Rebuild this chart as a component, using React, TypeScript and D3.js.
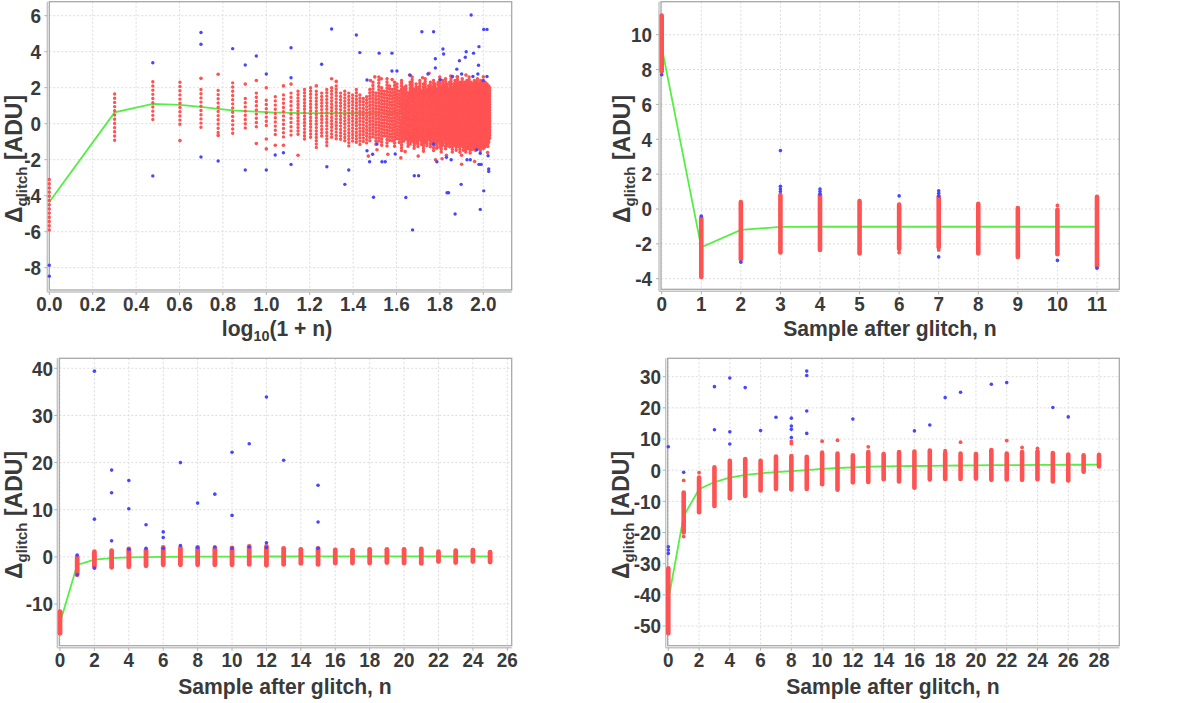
import React from 'react';
import * as d3 from 'd3';

const FONT = '"Liberation Sans", Arial, Helvetica, sans-serif';
const RED = '#ff5252';
const BLUE = '#4646ff';
const GREEN = '#55ee44';
const INK = '#3a3a3a';

type Pt = [number, number];

// ---------- Panel A : x = log10(1+n) ----------
const A_XTICKS = [0, 0.2, 0.4, 0.6, 0.8, 1.0, 1.2, 1.4, 1.6, 1.8, 2.0];
const A_YTICKS = [-8, -6, -4, -2, 0, 2, 4, 6];
// discrete columns n = 0..28
const A_LO = [-6.1, -0.94, 0.0, -0.1, -0.3, -0.7, -0.6, -0.4, -0.2, -0.3, -0.7, -0.8, -0.8, -0.7, -1.0, -0.9, -1.4, -0.8, -1.3, -0.9, -1.0, -1.0, -1.1, -1.3, -1.0, -1.2, -1.3, -1.0, -1.1];
const A_HI = [-3.1, 1.65, 2.33, 2.3, 1.9, 1.85, 2.27, 1.4, 1.7, 1.3, 1.5, 1.6, 1.7, 1.8, 1.9, 2.0, 1.8, 1.7, 1.9, 2.0, 2.1, 1.7, 1.8, 1.7, 1.6, 1.9, 1.6, 1.4, 1.5];
// dense cloud n = 29..106
const A_CLOUD_START = 29;
const A_CLOUD_HI = [
  1.9, 2.3, 1.7, 2.6, 2.0, 1.8, 2.5, 2.1, 1.9, 2.3,
  2.2, 1.8, 2.4, 2.0, 2.1, 1.7, 2.3, 2.6, 1.9, 2.2,
  2.0, 2.4, 1.8, 2.2, 2.5, 1.9, 2.1, 2.3, 2.0, 2.4,
  2.2, 1.9, 2.3, 2.6, 2.0, 2.4, 2.1, 2.5, 2.2, 1.9,
  2.3, 2.5, 2.0, 2.2, 2.4, 2.1, 2.6, 2.0, 2.3, 2.2,
  2.5, 2.1, 2.3, 2.0, 2.4, 2.2, 2.6, 2.1, 2.3, 2.0,
  2.2, 2.4, 2.1, 2.3, 2.5, 2.0, 2.2, 2.4, 2.1, 2.3,
  2.2, 2.0, 2.3, 2.1, 2.2, 2.0, 2.1, 2.0,
];
const A_CLOUD_LO = [
  -1.1, -0.9, -1.3, -1.0, -1.2, -0.8, -1.4, -1.0, -1.1, -1.3,
  -1.0, -1.2, -1.5, -1.1, -0.9, -1.3, -1.2, -1.0, -1.4, -1.1,
  -1.3, -1.0, -1.2, -1.6, -1.1, -1.3, -1.0, -1.4, -1.2, -1.5,
  -1.2, -1.4, -1.1, -1.3, -1.6, -1.2, -1.0, -1.5, -1.3, -1.1,
  -1.4, -1.2, -1.6, -1.3, -1.1, -1.5, -1.2, -1.4, -1.7, -1.3,
  -1.2, -1.5, -1.3, -1.6, -1.1, -1.4, -1.3, -1.7, -1.2, -1.5,
  -1.4, -1.2, -1.6, -1.3, -1.5, -1.1, -1.4, -1.6, -1.2, -1.3,
  -1.5, -1.1, -1.3, -1.2, -1.0, -1.4, -1.1, -0.9,
];
const A_MEAN: Pt[] = [
  [0, -4.35], [1, 0.63], [2, 1.1], [3, 1.05], [4, 0.93], [5, 0.82], [6, 0.74], [7, 0.7], [8, 0.67], [9, 0.64],
  [10, 0.62], [11, 0.61], [12, 0.6], [14, 0.59], [18, 0.58], [24, 0.58], [28, 0.58], [40, 0.6], [70, 0.62], [106, 0.63],
];
const A_RED_STRAY_N: Pt[] = [
  [3, -0.94], [4, 2.52], [5, 2.75], [5, -0.65], [7, 2.2], [8, 2.4], [8, -1.1], [9, 2.0], [9, -0.85], [9, -1.4],
  [10, -1.2], [11, 2.1], [11, -1.2], [12, 2.2], [13, -1.75], [16, 2.1], [19, 2.5], [20, 2.35],
];
const A_RED_STRAY_X: Pt[] = [
  [1.47, -1.8], [1.48, 2.4], [1.5, 2.6], [1.53, 2.5], [1.56, -1.7], [1.62, -1.9], [1.66, 2.7], [1.7, -1.8],
  [1.75, 2.8], [1.78, -2.0], [1.83, -1.75], [1.85, 2.65], [1.9, -2.25], [1.9, -1.75], [1.92, 2.7], [1.96, -2.1],
  [2.0, 2.6], [2.02, -1.6], [1.51, -1.45], [1.58, 2.45], [1.64, -1.55], [1.72, 2.55], [1.81, -1.95], [1.88, 2.6],
];
const A_BLUE: Pt[] = [
  [0, -7.86], [0, -8.47], [0.477, 3.39], [0.477, -2.9], [0.699, 5.07], [0.699, 4.41], [0.699, -1.85], [0.778, -2.07],
  [0.845, 4.17], [0.903, 3.26], [0.903, -2.57], [0.954, 3.76], [1.0, 2.76], [1.0, -2.57], [1.041, -1.74], [1.079, -1.61],
  [1.114, 4.22], [1.114, 2.55], [1.114, -2.26], [1.255, 3.3], [1.279, -2.39], [1.301, 5.26], [1.362, -3.37], [1.38, -2.57],
  [1.415, 4.93], [1.431, 3.95], [1.464, 2.43], [1.464, -1.5], [1.476, -2.11], [1.494, -4.09], [1.49, -1.7], [1.51, -1.13],
  [1.52, 3.92], [1.533, -2.11], [1.548, -2.11], [1.579, 3.92], [1.579, 2.93], [1.594, -1.68], [1.602, 2.93], [1.663, 2.7],
  [1.643, -4.1], [1.674, -5.9], [1.682, -2.89], [1.702, -2.89], [1.717, 5.11], [1.745, 2.76], [1.771, 5.11], [1.779, 3.61],
  [1.779, 3.1], [1.786, -2.11], [1.771, -1.13], [1.814, 4.15], [1.817, 3.87], [1.802, 2.45], [1.83, -1.87], [1.833, -3.84],
  [1.84, -3.84], [1.852, -2.0], [1.858, 2.62], [1.87, -5.02], [1.878, 3.03], [1.89, 3.5], [1.898, -3.37], [1.9, 2.76],
  [1.917, 3.69], [1.921, 4.0], [1.925, -2.0], [1.94, -2.0], [1.944, 6.04], [1.955, 3.92], [1.952, 2.62], [1.978, 3.25],
  [1.98, 4.28], [1.98, -2.26], [1.99, -2.26], [1.986, -4.76], [1.975, 2.76], [2.002, -3.73], [2.002, 5.24], [2.017, 5.24],
  [2.0, 2.4], [2.017, 2.62], [2.022, -1.78], [2.025, -2.52], [2.025, -2.65], [1.97, -1.45], [1.986, -1.64],
];

// ---------- Panel B : n = 0..11 ----------
const B_XTICKS = [0, 1, 2, 3, 4, 5, 6, 7, 8, 9, 10, 11];
const B_YTICKS = [-4, -2, 0, 2, 4, 6, 8, 10];
const B_LO = [7.9, -3.9, -2.9, -2.5, -2.35, -2.55, -2.3, -2.2, -2.55, -2.75, -2.6, -3.3];
const B_HI = [11.1, -0.5, 0.4, 0.8, 0.8, 0.45, 0.25, 0.7, 0.3, 0.05, -0.05, 0.7];
const B_MEAN = [9.3, -2.2, -1.2, -1.03, -1.02, -1.02, -1.02, -1.02, -1.02, -1.02, -1.02, -1.02];
const B_RED_STRAY: Pt[] = [[7, -2.35], [10, 0.2], [6, -2.5]];
const B_BLUE: Pt[] = [
  [0, 7.7], [1, -0.4], [2, -3.05], [3, 1.0], [3, 1.15], [3, 1.3], [3, 3.35], [4, 0.85], [4, 1.0], [4, 1.15],
  [6, 0.75], [7, 0.75], [7, 0.9], [7, 1.05], [7, -2.75], [10, -2.95], [11, -3.4],
];

// ---------- Panel C : n = 0..25 ----------
const C_XTICKS = [0, 2, 4, 6, 8, 10, 12, 14, 16, 18, 20, 22, 24, 26];
const C_YTICKS = [-10, 0, 10, 20, 30, 40];
const C_LO = [-16.2, -3.8, -2.1, -2.2, -2.1, -1.9, -1.7, -1.7, -1.7, -1.7, -1.7, -1.6, -1.8, -1.6, -1.4, -1.6, -1.3, -1.3, -1.3, -1.2, -1.3, -1.4, -1.0, -1.2, -1.0, -1.1];
const C_HI = [-11.6, 0.0, 1.1, 1.3, 1.7, 1.4, 2.0, 1.9, 2.0, 1.9, 1.9, 2.2, 2.2, 1.8, 1.6, 1.8, 1.5, 1.4, 1.6, 1.6, 1.6, 1.7, 1.1, 1.3, 1.4, 1.0];
const C_MEAN = [-14.0, -1.7, -0.6, -0.25, -0.1, -0.05, 0.0, 0.02, 0.04, 0.05, 0.06, 0.07, 0.08, 0.08, 0.09, 0.09, 0.1, 0.1, 0.1, 0.1, 0.1, 0.1, 0.1, 0.1, 0.1, 0.1];
const C_BLUE: Pt[] = [
  [1, 0.4], [1, -3.8], [2, -2.4], [2, 8.0], [2, 39.4], [3, 3.4], [3, 13.6], [3, 18.4], [4, 1.6], [4, 10.2], [4, 16.2],
  [5, 1.8], [5, 6.8], [6, 1.8], [6, 4.1], [6, 5.3], [7, 2.4], [7, 20.0], [8, 2.0], [8, 11.4], [9, 2.1], [9, 13.3],
  [10, 1.8], [10, 8.8], [10, 22.2], [11, 2.1], [11, 24.0], [12, 2.0], [12, 3.0], [12, 33.9], [13, 20.5],
  [15, 1.8], [15, 7.4], [15, 15.2],
];

// ---------- Panel D : n = 0..28 ----------
const D_XTICKS = [0, 2, 4, 6, 8, 10, 12, 14, 16, 18, 20, 22, 24, 26, 28];
const D_YTICKS = [-50, -40, -30, -20, -10, 0, 10, 20, 30];
const D_LO = [-52.3, -20.0, -13.5, -11.5, -9.0, -8.3, -6.5, -6.0, -6.2, -6.0, -4.5, -6.3, -3.9, -3.8, -2.9, -3.6, -5.6, -3.0, -2.8, -2.8, -2.7, -3.1, -3.0, -3.1, -2.9, -3.6, -3.3, -0.5, 1.2];
const D_HI = [-31.5, -7.2, -2.4, 0.9, 3.0, 3.6, 3.0, 4.4, 4.5, 4.3, 5.4, 5.3, 4.8, 5.8, 5.2, 5.8, 6.0, 6.3, 5.5, 5.3, 5.2, 6.5, 5.3, 5.8, 6.0, 5.5, 5.0, 4.8, 4.9];
const D_MEAN = [-41.8, -14.7, -6.1, -3.8, -2.4, -1.5, -1.0, -0.6, -0.3, 0.05, 0.4, 0.7, 0.9, 1.1, 1.2, 1.3, 1.35, 1.4, 1.45, 1.5, 1.55, 1.6, 1.6, 1.65, 1.7, 1.7, 1.75, 1.75, 1.8];
const D_RED_STRAY: Pt[] = [
  [1, -3.3], [1, -21.3], [2, -0.8], [8, 8.5], [8, 9.2], [10, 5.8], [10, 9.3], [11, 9.6], [13, 7.5], [18, 6.3],
  [19, 9.0], [22, 9.5], [23, 7.3], [24, 7.0],
];
const D_BLUE: Pt[] = [
  [0, 7.5], [0, -24.6], [0, -25.6], [0, -26.7], [1, -0.7], [3, 13.0], [3, 26.8], [4, 8.4], [4, 12.3], [4, 29.6],
  [5, 26.5], [6, 12.7], [7, 17.0], [8, 10.5], [8, 13.1], [8, 14.2], [8, 16.7], [9, 11.8], [9, 19.0], [9, 30.4],
  [9, 31.8], [12, 16.4], [16, 12.6], [17, 14.5], [18, 23.3], [19, 25.0], [21, 27.6], [22, 28.1], [25, 20.1], [26, 17.1],
];

type Box = { l: number; t: number; r: number; b: number };
type Scale = d3.ScaleLinear<number, number>;

const SX = 0.9; // horizontal condensation of the reference lettering

function Frame(props: {
  box: Box;
  x: Scale;
  y: Scale;
  xTicks: number[];
  yTicks: number[];
  xFmt: (v: number) => string;
  xLabelY: number;
  yLabelRight: number;
  xTitle: React.ReactNode;
  xTitleX: number;
  xTitleY: number;
  yTitleX: number;
  yTitleY: number;
  children?: React.ReactNode;
}) {
  const { box, x, y } = props;
  return (
    <g>
      <rect x={box.l} y={box.t} width={box.r - box.l} height={box.b - box.t} fill="#fff" />
      {props.xTicks.map((v) => (
        <line key={'gx' + v} x1={x(v)} x2={x(v)} y1={box.t} y2={box.b} stroke="#dcdcdc" strokeWidth={1} strokeDasharray="2,2" />
      ))}
      {props.yTicks.map((v) => (
        <line key={'gy' + v} x1={box.l} x2={box.r} y1={y(v)} y2={y(v)} stroke="#dcdcdc" strokeWidth={1} strokeDasharray="2,2" />
      ))}
      <rect x={box.l} y={box.t} width={box.r - box.l} height={box.b - box.t} fill="none" stroke="#a8a8a8" strokeWidth={1.3} />
      <line x1={box.l - 2} x2={box.r} y1={box.b + 2} y2={box.b + 2} stroke="#c4c4c4" strokeWidth={1.4} />
      <line x1={box.l - 2} x2={box.l - 2} y1={box.t} y2={box.b + 2} stroke="#c4c4c4" strokeWidth={1.4} />
      {props.xTicks.map((v) => (
        <line key={'tx' + v} x1={x(v)} x2={x(v)} y1={box.b + 2} y2={box.b + 5} stroke="#b0b0b0" strokeWidth={1} />
      ))}
      {props.yTicks.map((v) => (
        <line key={'ty' + v} x1={box.l - 5} x2={box.l - 2} y1={y(v)} y2={y(v)} stroke="#b0b0b0" strokeWidth={1} />
      ))}
      {props.children}
      <g fontFamily={FONT} fontWeight="bold" fill={INK}>
        {props.xTicks.map((v) => (
          <text
            key={'lx' + v}
            transform={`translate(${x(v)},${props.xLabelY}) scale(${SX},1)`}
            textAnchor="middle"
            fontSize={21}
          >
            {props.xFmt(v)}
          </text>
        ))}
        {props.yTicks.map((v) => (
          <text
            key={'ly' + v}
            transform={`translate(${props.yLabelRight},${y(v)}) scale(${SX},1)`}
            dy="0.35em"
            textAnchor="end"
            fontSize={21}
          >
            {v}
          </text>
        ))}
        <text transform={`translate(${props.xTitleX},${props.xTitleY}) scale(0.96,1)`} textAnchor="middle" fontSize={22}>
          {props.xTitle}
        </text>
        <text transform={`translate(${props.yTitleX},${props.yTitleY}) rotate(-90)`} textAnchor="middle" fontSize={23}>
          Δ<tspan dy={5} fontSize={15}>glitch</tspan>
          <tspan dy={-5}> [ADU]</tspan>
        </text>
      </g>
    </g>
  );
}

function Column({ x, y1, y2, w, dotted }: { x: number; y1: number; y2: number; w: number; dotted?: number }) {
  return (
    <line
      x1={x}
      x2={x}
      y1={y1}
      y2={y2}
      stroke={RED}
      strokeWidth={w}
      strokeLinecap="round"
      strokeDasharray={dotted ? `0 ${dotted}` : undefined}
    />
  );
}

function Dots({ pts, x, y, color, r }: { pts: Pt[]; x: (v: number) => number; y: Scale; color: string; r: number }) {
  return (
    <g fill={color}>
      {pts.map((p, i) => (
        <circle key={i} cx={x(p[0])} cy={y(p[1])} r={r} />
      ))}
    </g>
  );
}

function PanelA() {
  const box = { l: 49.3, t: 1.7, r: 511.7, b: 290 };
  const x = d3.scaleLinear().domain([0, 2]).range([49.3, 483.3]);
  const y = d3.scaleLinear().domain([6, -8]).range([15.7, 267.7]);
  const xn = (n: number) => x(Math.log10(1 + n));
  const line = d3
    .line<Pt>()
    .x((d) => xn(d[0]))
    .y((d) => y(d[1]));
  return (
    <Frame
      box={box}
      x={x}
      y={y}
      xTicks={A_XTICKS}
      yTicks={A_YTICKS}
      xFmt={d3.format('.1f')}
      xLabelY={311}
      yLabelRight={41}
      xTitle={
        <>
          log<tspan dy={5} fontSize={15}>10</tspan>
          <tspan dy={-5}>(1 + n)</tspan>
        </>
      }
      xTitleX={277}
      xTitleY={336}
      yTitleX={22}
      yTitleY={159}
    >
      <path d={line(A_MEAN) || ''} fill="none" stroke={GREEN} strokeWidth={1.8} />
      {A_LO.map((lo, n) => (
        <Column key={'c' + n} x={xn(n)} y1={y(A_HI[n])} y2={y(lo)} w={3.4} dotted={n <= 12 ? 4.2 : 3.3} />
      ))}
      {A_CLOUD_LO.map((lo, i) => (
        <Column key={'k' + i} x={xn(A_CLOUD_START + i)} y1={y(A_CLOUD_HI[i])} y2={y(lo)} w={3.5} dotted={i < 12 ? 3.2 : 2.8} />
      ))}
      <Dots pts={A_RED_STRAY_N} x={xn} y={y} color={RED} r={1.8} />
      <Dots pts={A_RED_STRAY_X} x={x} y={y} color={RED} r={1.8} />
      <Dots pts={A_BLUE} x={x} y={y} color={BLUE} r={1.7} />
    </Frame>
  );
}

function SamplePanel(props: {
  box: Box;
  x: Scale;
  y: Scale;
  xTicks: number[];
  yTicks: number[];
  lo: number[];
  hi: number[];
  mean: number[];
  red: Pt[];
  blue: Pt[];
  xLabelY: number;
  yLabelRight: number;
  xTitleX: number;
  xTitleY: number;
  yTitleX: number;
  yTitleY: number;
  colW: number;
}) {
  const { x, y } = props;
  const line = d3
    .line<number>()
    .x((_, i) => x(i))
    .y((d) => y(d));
  return (
    <Frame
      box={props.box}
      x={x}
      y={y}
      xTicks={props.xTicks}
      yTicks={props.yTicks}
      xFmt={(v) => String(v)}
      xLabelY={props.xLabelY}
      yLabelRight={props.yLabelRight}
      xTitle="Sample after glitch, n"
      xTitleX={props.xTitleX}
      xTitleY={props.xTitleY}
      yTitleX={props.yTitleX}
      yTitleY={props.yTitleY}
    >
      <path d={line(props.mean) || ''} fill="none" stroke={GREEN} strokeWidth={1.8} />
      {props.lo.map((lo, n) => (
        <Column key={n} x={x(n)} y1={y(props.hi[n])} y2={y(lo)} w={props.colW} />
      ))}
      <Dots pts={props.red} x={x} y={y} color={RED} r={1.9} />
      <Dots pts={props.blue} x={x} y={y} color={BLUE} r={1.8} />
    </Frame>
  );
}

export default function App() {
  const bx = d3.scaleLinear().domain([0, 11]).range([661.7, 1097]);
  const by = d3.scaleLinear().domain([10, -4]).range([34.7, 278.7]);
  const cx = d3.scaleLinear().domain([0, 26]).range([60, 507.3]);
  const cy = d3.scaleLinear().domain([40, -10]).range([368.3, 604]);
  const dx = d3.scaleLinear().domain([0, 28]).range([668.3, 1099]);
  const dy = d3.scaleLinear().domain([30, -50]).range([376.7, 626]);
  return (
    <svg
      width={1200}
      height={703}
      viewBox="0 0 1200 703"
      style={{ position: 'absolute', left: 0, top: 0, background: '#fff' }}
    >
      <rect x={0} y={0} width={1200} height={703} fill="#fff" />
      <PanelA />
      <SamplePanel
        box={{ l: 661, t: 1.7, r: 1119.3, b: 289.3 }}
        x={bx}
        y={by}
        xTicks={B_XTICKS}
        yTicks={B_YTICKS}
        lo={B_LO}
        hi={B_HI}
        mean={B_MEAN}
        red={B_RED_STRAY}
        blue={B_BLUE}
        xLabelY={311}
        yLabelRight={652}
        xTitleX={890}
        xTitleY={336}
        yTitleX={630}
        yTitleY={159}
        colW={4.6}
      />
      <SamplePanel
        box={{ l: 59.3, t: 358.3, r: 511.7, b: 645.7 }}
        x={cx}
        y={cy}
        xTicks={C_XTICKS}
        yTicks={C_YTICKS}
        lo={C_LO}
        hi={C_HI}
        mean={C_MEAN}
        red={[]}
        blue={C_BLUE}
        xLabelY={667}
        yLabelRight={53}
        xTitleX={285}
        xTitleY={694}
        yTitleX={22}
        yTitleY={515}
        colW={4.8}
      />
      <SamplePanel
        box={{ l: 667.7, t: 358.3, r: 1119.3, b: 645.7 }}
        x={dx}
        y={dy}
        xTicks={D_XTICKS}
        yTicks={D_YTICKS}
        lo={D_LO}
        hi={D_HI}
        mean={D_MEAN}
        red={D_RED_STRAY}
        blue={D_BLUE}
        xLabelY={667}
        yLabelRight={661}
        xTitleX={893}
        xTitleY={694}
        yTitleX={629}
        yTitleY={515}
        colW={4.6}
      />
    </svg>
  );
}
